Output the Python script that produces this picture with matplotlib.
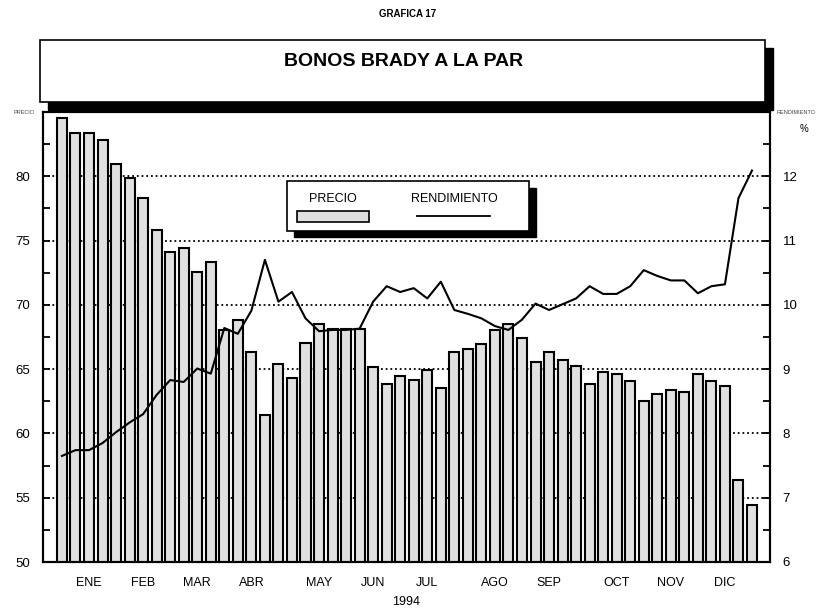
import matplotlib
matplotlib.use("Agg")
import matplotlib.pyplot as plt
import matplotlib.patches as patches
import matplotlib.lines as mlines

plt.rcParams['font.family'] = ['Liberation Sans', 'DejaVu Sans']

# --- datos (semanal, 1994) ---
precio = [84.5, 83.4, 83.4, 82.8, 80.95, 79.9, 78.3, 75.8, 74.1, 74.45,
          72.55, 73.3, 68.05, 68.8, 66.3, 61.4, 65.4, 64.3, 67.0, 68.5,
          68.1, 68.15, 68.15, 65.2, 63.85, 64.45, 64.15, 64.95, 63.55, 66.3,
          66.6, 66.95, 68.05, 68.5, 67.4, 65.55, 66.3, 65.7, 65.25, 63.85,
          64.8, 64.65, 64.05, 62.5, 63.1, 63.4, 63.25, 64.6, 64.05, 63.7,
          56.4, 54.4]
rendimiento = [7.65, 7.74, 7.74, 7.85, 8.02, 8.17, 8.3, 8.6, 8.83, 8.8,
               9.01, 8.93, 9.64, 9.55, 9.91, 10.7, 10.05, 10.2, 9.79, 9.59,
               9.61, 9.61, 9.63, 10.05, 10.29, 10.2, 10.26, 10.1, 10.36, 9.92,
               9.86, 9.79, 9.67, 9.61, 9.77, 10.02, 9.92, 10.01, 10.1, 10.29,
               10.17, 10.17, 10.29, 10.54, 10.45, 10.38, 10.38, 10.18, 10.29, 10.32,
               11.66, 12.09]
meses = ["ENE", "FEB", "MAR", "ABR", "MAY", "JUN", "JUL", "AGO", "SEP", "OCT", "NOV", "DIC"]
semana_mes = [2, 6, 10, 14, 19, 23, 27, 32, 36, 41, 45, 49]
semanas = list(range(len(precio)))

W, H = 817, 612


def fx(x):
    return x / W


def fy(y):
    return 1 - y / H


fig = plt.figure(figsize=(W / 100, H / 100), dpi=100)
ax = fig.add_axes([fx(43), fy(562), fx(770) - fx(43), fy(112) - fy(562)])

# --- barras de precio ---
for v in [55, 60, 65, 70, 75, 80]:
    ax.axhline(v, color="black", linestyle=(0, (1, 1.6)), linewidth=1.3, zorder=1)
ax.bar(semanas, precio, width=0.74, color="#e0e0e0", edgecolor="black",
       linewidth=1.5, zorder=2)
ax.set_xlim(-1.4, 52.33)
ax.set_ylim(50, 85)
ax.set_yticks([50, 55, 60, 65, 70, 75, 80])
ax.set_yticks([52.5, 57.5, 62.5, 67.5, 72.5, 77.5, 82.5], minor=True)
ax.set_xticks(semana_mes, meses)
ax.set_xticks(semanas, minor=True)
ax.tick_params(axis="x", which="both", direction="in", length=11, width=1.5,
               labelsize=9, pad=11)
ax.tick_params(axis="y", which="both", direction="in", length=5, width=1.3,
               labelsize=9.5, pad=9.5)
for s in ax.spines.values():
    s.set_linewidth(1.5)
ax.set_xlabel("1994", fontsize=9, labelpad=5)

# --- rendimiento ---
ax2 = ax.twinx()
ax2.plot(semanas, rendimiento, color="black", linewidth=1.5, zorder=3)
ax2.set_ylim(6, 13)
ax2.set_yticks([6, 7, 8, 9, 10, 11, 12])
ax2.set_yticks([6.5, 7.5, 8.5, 9.5, 10.5, 11.5, 12.5], minor=True)
ax2.tick_params(axis="y", which="both", direction="in", length=5, width=1.3,
                labelsize=9.5, pad=9)
for s in ax2.spines.values():
    s.set_linewidth(1.5)

# --- textos de ejes ---
fig.text(fx(24), fy(112), "PRECIO", fontsize=4, ha="center", va="center", color="#444444")
fig.text(fx(796), fy(112), "RENDIMIENTO", fontsize=4, ha="center", va="center", color="#444444")
fig.text(fx(804), fy(129), "%", fontsize=7, ha="center", va="center")

# --- titulo ---
fig.text(fx(408), fy(14), "GRAFICA 17", fontsize=7, fontweight="bold",
         ha="center", va="center")
fig.add_artist(patches.Rectangle((fx(48), fy(110)), fx(773) - fx(48), fy(48) - fy(110),
                                 transform=fig.transFigure, facecolor="black",
                                 edgecolor="black", linewidth=1))
fig.add_artist(patches.Rectangle((fx(40), fy(102)), fx(765) - fx(40), fy(40) - fy(102),
                                 transform=fig.transFigure, facecolor="white",
                                 edgecolor="black", linewidth=1.2))
fig.text(fx(404), fy(62), "BONOS BRADY A LA PAR", fontsize=14, fontweight="bold",
         ha="center", va="center")

# --- leyenda ---
fig.add_artist(patches.Rectangle((fx(294), fy(237)), fx(536) - fx(294), fy(188) - fy(237),
                                 transform=fig.transFigure, facecolor="black",
                                 edgecolor="black", linewidth=1, zorder=10))
fig.add_artist(patches.Rectangle((fx(287), fy(231)), fx(529) - fx(287), fy(181) - fy(231),
                                 transform=fig.transFigure, facecolor="white",
                                 edgecolor="black", linewidth=1.2, zorder=11))
fig.add_artist(patches.Rectangle((fx(297), fy(221.5)), fx(369) - fx(297), fy(211) - fy(221.5),
                                 transform=fig.transFigure, facecolor="#e0e0e0",
                                 edgecolor="black", linewidth=1.2, zorder=12))
fig.add_artist(mlines.Line2D([fx(417), fx(490)], [fy(215.5), fy(215.5)],
                             transform=fig.transFigure, color="black",
                             linewidth=1.3, zorder=12))
fig.text(fx(333), fy(199), "PRECIO", fontsize=9, ha="center", va="center", zorder=12)
fig.text(fx(454), fy(199), "RENDIMIENTO", fontsize=9, ha="center", va="center", zorder=12)

fig.savefig("out.png", dpi=100)
